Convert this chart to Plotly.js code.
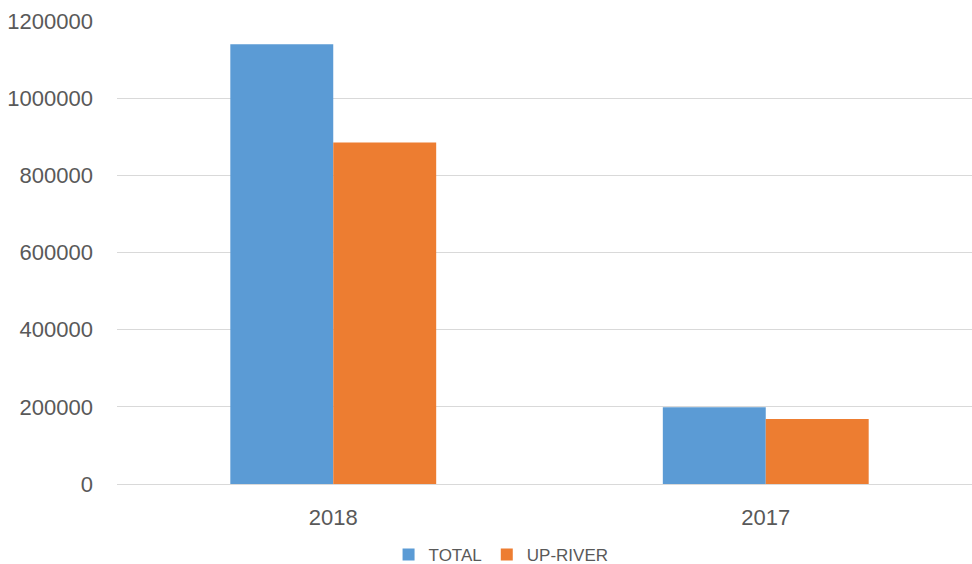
<!DOCTYPE html>
<html>
<head>
<meta charset="utf-8">
<script src="https://cdn.plot.ly/plotly-3.0.1.min.js"></script>
<style>
html,body{margin:0;padding:0;overflow:hidden;background:#fff;}
#chart{width:982px;height:564px;}
</style>
</head>
<body>
<div id="chart"></div>
<script>
const categories = ["2018", "2017"];
const totalValues = [1140000, 199000];
const upRiverValues = [885000, 168500];
const seriesNames = ["TOTAL", "UP-RIVER"];
const yTicks = [0, 200000, 400000, 600000, 800000, 1000000, 1200000];

const textColor = "#595959";
const fontFamily = "'Liberation Sans', Arial, sans-serif";

const data = [
  {type: "bar", name: seriesNames[0], x: categories, y: totalValues,
   marker: {color: "#5B9BD5"}, hoverinfo: "x+y+name"},
  {type: "bar", name: seriesNames[1], x: categories, y: upRiverValues,
   marker: {color: "#ED7D31"}, hoverinfo: "x+y+name"}
];

const layout = {
  width: 982, height: 564,
  margin: {l: 117, r: 0, t: 21, b: 80, autoexpand: false},
  paper_bgcolor: "#ffffff", plot_bgcolor: "#ffffff",
  font: {family: fontFamily, color: textColor, size: 22},
  barmode: "group",
  bargap: 0.524, bargroupgap: 0,
  showlegend: true,
  legend: {orientation: "h", x: 0.444, xanchor: "center", y: -0.153, yanchor: "middle",
           font: {size: 17, color: textColor}, bgcolor: "rgba(0,0,0,0)"},
  xaxis: {type: "category", showgrid: false, showline: false, zeroline: false,
          automargin: false,
          ticks: "", ticklabelstandoff: 18, tickfont: {size: 22, color: textColor}},
  yaxis: {range: [0, 1200000], tickvals: yTicks, ticktext: yTicks.map(String),
          automargin: false,
          showgrid: true, gridcolor: "#d9d9d9", gridwidth: 1,
          zeroline: true, zerolinecolor: "#d9d9d9", zerolinewidth: 1,
          showline: false, ticks: "", ticklabelstandoff: 23,
          tickfont: {size: 22, color: textColor}}
};

Plotly.newPlot("chart", data, layout, {displayModeBar: false, staticPlot: false});
</script>
</body>
</html>
